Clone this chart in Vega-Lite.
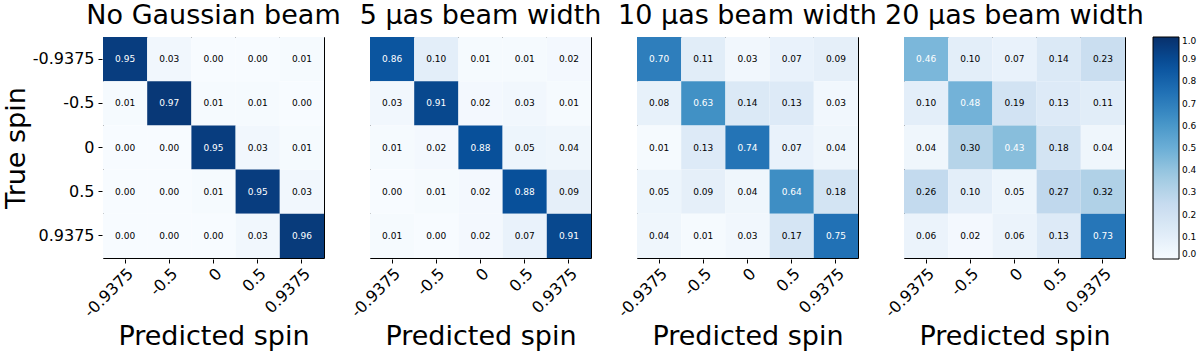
{
  "$schema": "https://vega.github.io/schema/vega-lite/v6.json",
  "padding": {"left": 2, "top": 2, "right": 0, "bottom": 2},
  "background": "white",
  "data": {"values": [
    {"panel":"No Gaussian beam","t":"-0.9375","p":"-0.9375","v":0.95},{"panel":"No Gaussian beam","t":"-0.9375","p":"-0.5","v":0.03},{"panel":"No Gaussian beam","t":"-0.9375","p":"0","v":0.00},{"panel":"No Gaussian beam","t":"-0.9375","p":"0.5","v":0.00},{"panel":"No Gaussian beam","t":"-0.9375","p":"0.9375","v":0.01},
    {"panel":"No Gaussian beam","t":"-0.5","p":"-0.9375","v":0.01},{"panel":"No Gaussian beam","t":"-0.5","p":"-0.5","v":0.97},{"panel":"No Gaussian beam","t":"-0.5","p":"0","v":0.01},{"panel":"No Gaussian beam","t":"-0.5","p":"0.5","v":0.01},{"panel":"No Gaussian beam","t":"-0.5","p":"0.9375","v":0.00},
    {"panel":"No Gaussian beam","t":"0","p":"-0.9375","v":0.00},{"panel":"No Gaussian beam","t":"0","p":"-0.5","v":0.00},{"panel":"No Gaussian beam","t":"0","p":"0","v":0.95},{"panel":"No Gaussian beam","t":"0","p":"0.5","v":0.03},{"panel":"No Gaussian beam","t":"0","p":"0.9375","v":0.01},
    {"panel":"No Gaussian beam","t":"0.5","p":"-0.9375","v":0.00},{"panel":"No Gaussian beam","t":"0.5","p":"-0.5","v":0.00},{"panel":"No Gaussian beam","t":"0.5","p":"0","v":0.01},{"panel":"No Gaussian beam","t":"0.5","p":"0.5","v":0.95},{"panel":"No Gaussian beam","t":"0.5","p":"0.9375","v":0.03},
    {"panel":"No Gaussian beam","t":"0.9375","p":"-0.9375","v":0.00},{"panel":"No Gaussian beam","t":"0.9375","p":"-0.5","v":0.00},{"panel":"No Gaussian beam","t":"0.9375","p":"0","v":0.00},{"panel":"No Gaussian beam","t":"0.9375","p":"0.5","v":0.03},{"panel":"No Gaussian beam","t":"0.9375","p":"0.9375","v":0.96},

    {"panel":"5 μas beam width","t":"-0.9375","p":"-0.9375","v":0.86},{"panel":"5 μas beam width","t":"-0.9375","p":"-0.5","v":0.10},{"panel":"5 μas beam width","t":"-0.9375","p":"0","v":0.01},{"panel":"5 μas beam width","t":"-0.9375","p":"0.5","v":0.01},{"panel":"5 μas beam width","t":"-0.9375","p":"0.9375","v":0.02},
    {"panel":"5 μas beam width","t":"-0.5","p":"-0.9375","v":0.03},{"panel":"5 μas beam width","t":"-0.5","p":"-0.5","v":0.91},{"panel":"5 μas beam width","t":"-0.5","p":"0","v":0.02},{"panel":"5 μas beam width","t":"-0.5","p":"0.5","v":0.03},{"panel":"5 μas beam width","t":"-0.5","p":"0.9375","v":0.01},
    {"panel":"5 μas beam width","t":"0","p":"-0.9375","v":0.01},{"panel":"5 μas beam width","t":"0","p":"-0.5","v":0.02},{"panel":"5 μas beam width","t":"0","p":"0","v":0.88},{"panel":"5 μas beam width","t":"0","p":"0.5","v":0.05},{"panel":"5 μas beam width","t":"0","p":"0.9375","v":0.04},
    {"panel":"5 μas beam width","t":"0.5","p":"-0.9375","v":0.00},{"panel":"5 μas beam width","t":"0.5","p":"-0.5","v":0.01},{"panel":"5 μas beam width","t":"0.5","p":"0","v":0.02},{"panel":"5 μas beam width","t":"0.5","p":"0.5","v":0.88},{"panel":"5 μas beam width","t":"0.5","p":"0.9375","v":0.09},
    {"panel":"5 μas beam width","t":"0.9375","p":"-0.9375","v":0.01},{"panel":"5 μas beam width","t":"0.9375","p":"-0.5","v":0.00},{"panel":"5 μas beam width","t":"0.9375","p":"0","v":0.02},{"panel":"5 μas beam width","t":"0.9375","p":"0.5","v":0.07},{"panel":"5 μas beam width","t":"0.9375","p":"0.9375","v":0.91},

    {"panel":"10 μas beam width","t":"-0.9375","p":"-0.9375","v":0.70},{"panel":"10 μas beam width","t":"-0.9375","p":"-0.5","v":0.11},{"panel":"10 μas beam width","t":"-0.9375","p":"0","v":0.03},{"panel":"10 μas beam width","t":"-0.9375","p":"0.5","v":0.07},{"panel":"10 μas beam width","t":"-0.9375","p":"0.9375","v":0.09},
    {"panel":"10 μas beam width","t":"-0.5","p":"-0.9375","v":0.08},{"panel":"10 μas beam width","t":"-0.5","p":"-0.5","v":0.63},{"panel":"10 μas beam width","t":"-0.5","p":"0","v":0.14},{"panel":"10 μas beam width","t":"-0.5","p":"0.5","v":0.13},{"panel":"10 μas beam width","t":"-0.5","p":"0.9375","v":0.03},
    {"panel":"10 μas beam width","t":"0","p":"-0.9375","v":0.01},{"panel":"10 μas beam width","t":"0","p":"-0.5","v":0.13},{"panel":"10 μas beam width","t":"0","p":"0","v":0.74},{"panel":"10 μas beam width","t":"0","p":"0.5","v":0.07},{"panel":"10 μas beam width","t":"0","p":"0.9375","v":0.04},
    {"panel":"10 μas beam width","t":"0.5","p":"-0.9375","v":0.05},{"panel":"10 μas beam width","t":"0.5","p":"-0.5","v":0.09},{"panel":"10 μas beam width","t":"0.5","p":"0","v":0.04},{"panel":"10 μas beam width","t":"0.5","p":"0.5","v":0.64},{"panel":"10 μas beam width","t":"0.5","p":"0.9375","v":0.18},
    {"panel":"10 μas beam width","t":"0.9375","p":"-0.9375","v":0.04},{"panel":"10 μas beam width","t":"0.9375","p":"-0.5","v":0.01},{"panel":"10 μas beam width","t":"0.9375","p":"0","v":0.03},{"panel":"10 μas beam width","t":"0.9375","p":"0.5","v":0.17},{"panel":"10 μas beam width","t":"0.9375","p":"0.9375","v":0.75},

    {"panel":"20 μas beam width","t":"-0.9375","p":"-0.9375","v":0.46},{"panel":"20 μas beam width","t":"-0.9375","p":"-0.5","v":0.10},{"panel":"20 μas beam width","t":"-0.9375","p":"0","v":0.07},{"panel":"20 μas beam width","t":"-0.9375","p":"0.5","v":0.14},{"panel":"20 μas beam width","t":"-0.9375","p":"0.9375","v":0.23},
    {"panel":"20 μas beam width","t":"-0.5","p":"-0.9375","v":0.10},{"panel":"20 μas beam width","t":"-0.5","p":"-0.5","v":0.48},{"panel":"20 μas beam width","t":"-0.5","p":"0","v":0.19},{"panel":"20 μas beam width","t":"-0.5","p":"0.5","v":0.13},{"panel":"20 μas beam width","t":"-0.5","p":"0.9375","v":0.11},
    {"panel":"20 μas beam width","t":"0","p":"-0.9375","v":0.04},{"panel":"20 μas beam width","t":"0","p":"-0.5","v":0.30},{"panel":"20 μas beam width","t":"0","p":"0","v":0.43},{"panel":"20 μas beam width","t":"0","p":"0.5","v":0.18},{"panel":"20 μas beam width","t":"0","p":"0.9375","v":0.04},
    {"panel":"20 μas beam width","t":"0.5","p":"-0.9375","v":0.26},{"panel":"20 μas beam width","t":"0.5","p":"-0.5","v":0.10},{"panel":"20 μas beam width","t":"0.5","p":"0","v":0.05},{"panel":"20 μas beam width","t":"0.5","p":"0.5","v":0.27},{"panel":"20 μas beam width","t":"0.5","p":"0.9375","v":0.32},
    {"panel":"20 μas beam width","t":"0.9375","p":"-0.9375","v":0.06},{"panel":"20 μas beam width","t":"0.9375","p":"-0.5","v":0.02},{"panel":"20 μas beam width","t":"0.9375","p":"0","v":0.06},{"panel":"20 μas beam width","t":"0.9375","p":"0.5","v":0.13},{"panel":"20 μas beam width","t":"0.9375","p":"0.9375","v":0.73}
  ]},
  "facet": {
    "column": {
      "field": "panel",
      "type": "nominal",
      "sort": ["No Gaussian beam", "5 μas beam width", "10 μas beam width", "20 μas beam width"],
      "header": {"title": null, "labelFontSize": 27, "labelFont": "DejaVu Sans", "labelColor": "black", "labelPadding": 6}
    }
  },
  "spacing": {"column": 44},
  "spec": {
    "width": 221,
    "height": 221,
    "layer": [
      {
        "mark": {"type": "rect"},
        "encoding": {
          "x": {"field": "p", "type": "ordinal", "sort": ["-0.9375","-0.5","0","0.5","0.9375"], "title": "Predicted spin",
                "scale": {"paddingInner": 0, "paddingOuter": 0},
                "axis": {"labelAngle": -45, "labelAlign": "right", "labelBaseline": "top", "labelFontSize": 16, "labelFont": "DejaVu Sans", "labelColor": "black", "titleFontSize": 27, "titleFont": "DejaVu Sans", "titleFontWeight": "normal", "titleColor": "black", "domain": false, "tickColor": "black", "tickSize": 4, "labelPadding": 2, "titlePadding": 4}},
          "y": {"field": "t", "type": "ordinal", "sort": ["-0.9375","-0.5","0","0.5","0.9375"], "title": "True spin",
                "scale": {"paddingInner": 0, "paddingOuter": 0},
                "axis": {"labelFontSize": 16, "labelFont": "DejaVu Sans", "labelColor": "black", "titleFontSize": 27, "titleFont": "DejaVu Sans", "titleFontWeight": "normal", "titleColor": "black", "domain": false, "tickColor": "black", "tickSize": 4, "labelPadding": 4, "titlePadding": 2}},
          "color": {"field": "v", "type": "quantitative",
                    "scale": {"domain": [0, 1], "range": ["#f7fbff","#deebf7","#c6dbef","#9ecae1","#6baed6","#4292c6","#2171b5","#08519c","#08306b"], "interpolate": "rgb"},
                    "legend": {"title": null, "gradientLength": 222, "gradientThickness": 26, "gradientStrokeColor": "black", "gradientStrokeWidth": 1, "values": [0,0.1,0.2,0.3,0.4,0.5,0.6,0.7,0.8,0.9,1.0], "format": ".1f", "labelFontSize": 9, "labelFont": "DejaVu Sans", "labelColor": "black", "labelOffset": 3, "offset": 9, "padding": 0, "labelOverlap": false}}
        }
      },
      {
        "mark": {"type": "text", "fontSize": 9, "font": "DejaVu Sans"},
        "encoding": {
          "x": {"field": "p", "type": "ordinal", "sort": ["-0.9375","-0.5","0","0.5","0.9375"]},
          "y": {"field": "t", "type": "ordinal", "sort": ["-0.9375","-0.5","0","0.5","0.9375"]},
          "text": {"field": "v", "type": "quantitative", "format": ".2f"},
          "color": {"condition": {"test": "datum.v > 0.36", "value": "white"}, "value": "black"}
        }
      }
    ]
  },
  "config": {"view": {"stroke": "black", "strokeWidth": 1}}
}
